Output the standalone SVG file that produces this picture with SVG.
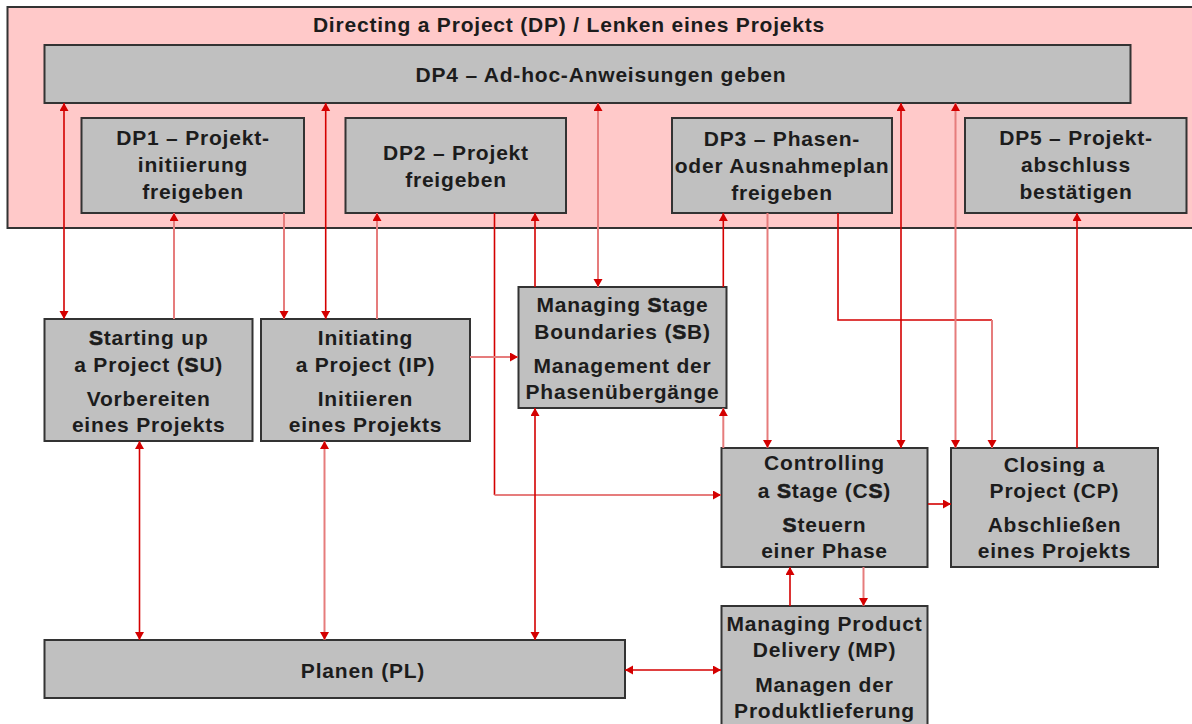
<svg xmlns="http://www.w3.org/2000/svg" width="1192" height="724" viewBox="0 0 1192 724">
<style>
.box{fill:#c0c0c0;stroke:#333;stroke-width:2}
.outer{fill:#ffc9c9;stroke:#333;stroke-width:2}
.t{font-family:"Liberation Sans",Arial,sans-serif;font-weight:bold;font-size:21px;letter-spacing:0.8px;fill:#1c1c1c;text-anchor:middle}
.s{stroke:#1c1c1c;stroke-width:0.7}
.dk{stroke:#d40000;stroke-width:1.6;fill:none}
.lt{stroke:#e67c7c;stroke-width:2;fill:none}
.e{marker-end:url(#ah)}
.d{marker-start:url(#ah);marker-end:url(#ah)}
</style>
<defs>
<marker id="ah" markerUnits="userSpaceOnUse" viewBox="0 0 10 10" markerWidth="10" markerHeight="10" refX="8" refY="4.5" orient="auto-start-reverse"><path d="M0,0 L8,4.5 L0,9 z" fill="#d40000"/></marker>
</defs>
<rect width="1192" height="724" fill="#fff"/>
<g id="DP">
<rect class="outer" x="7.5" y="7" width="1192" height="221"/>
<text class="t" x="569" y="31.5">Directing a Project (DP) / Lenken eines Projekts</text>
</g>
<g id="DP4"><rect class="box" x="44.5" y="45" width="1086" height="58"/><text class="t" x="601" y="81.5">DP4 – Ad-hoc-Anweisungen geben</text></g>
<g id="DP1"><rect class="box" x="81.5" y="118" width="222.5" height="95"/><text class="t" x="193" y="145">DP1 – Projekt-</text><text class="t" x="193" y="172">initiierung</text><text class="t" x="193" y="199">freigeben</text></g>
<g id="DP2"><rect class="box" x="345.5" y="118" width="220.5" height="95"/><text class="t" x="456" y="159.5">DP2 – Projekt</text><text class="t" x="456" y="186.5">freigeben</text></g>
<g id="DP3"><rect class="box" x="672" y="118" width="220" height="95"/><text class="t" x="782" y="145.5">DP3 – Phasen-</text><text class="t" x="782" y="172.5">oder Ausnahmeplan</text><text class="t" x="782" y="199.5">freigeben</text></g>
<g id="DP5"><rect class="box" x="965" y="118" width="221.5" height="95"/><text class="t" x="1076" y="145">DP5 – Projekt-</text><text class="t" x="1076" y="172">abschluss</text><text class="t" x="1076" y="199">bestätigen</text></g>
<g id="SU"><rect class="box" x="44.5" y="319" width="208" height="122"/><text class="t" x="148.7" y="345"><tspan class="s">S</tspan>tarting up</text><text class="t" x="148.7" y="372">a Project (<tspan class="s">S</tspan>U)</text><text class="t" x="148.7" y="406">Vorbereiten</text><text class="t" x="148.7" y="432">eines Projekts</text></g>
<g id="IP"><rect class="box" x="261" y="319" width="209" height="122"/><text class="t" x="365.5" y="345">Initiating</text><text class="t" x="365.5" y="372">a Project (IP)</text><text class="t" x="365.5" y="406">Initiieren</text><text class="t" x="365.5" y="432">eines Projekts</text></g>
<g id="SB"><rect class="box" x="518.5" y="287" width="208" height="121"/><text class="t" x="622.5" y="311.7">Managing <tspan class="s">S</tspan>tage</text><text class="t" x="622.5" y="339">Boundaries (<tspan class="s">S</tspan>B)</text><text class="t" x="622.5" y="373.3">Management der</text><text class="t" x="622.5" y="399.3">Phasenübergänge</text></g>
<g id="CS"><rect class="box" x="721.5" y="448" width="206" height="119"/><text class="t" x="824.5" y="470">Controlling</text><text class="t" x="824.5" y="498">a <tspan class="s">S</tspan>tage (C<tspan class="s">S</tspan>)</text><text class="t" x="824.5" y="532"><tspan class="s">S</tspan>teuern</text><text class="t" x="824.5" y="558">einer Phase</text></g>
<g id="CP"><rect class="box" x="951" y="448" width="207" height="119"/><text class="t" x="1054.5" y="471.7">Closing a</text><text class="t" x="1054.5" y="498">Project (CP)</text><text class="t" x="1054.5" y="531.7">Abschließen</text><text class="t" x="1054.5" y="558">eines Projekts</text></g>
<g id="PL"><rect class="box" x="44.5" y="640" width="580.5" height="58"/><text class="t" x="363" y="678">Planen (PL)</text></g>
<g id="MP"><rect class="box" x="721.5" y="606" width="206" height="122"/><text class="t" x="824.5" y="630.7">Managing Product</text><text class="t" x="824.5" y="657.3">Delivery (MP)</text><text class="t" x="824.5" y="691.7">Managen der</text><text class="t" x="824.5" y="718.3">Produktlieferung</text></g>
<g id="connectors">
<path class="dk d" d="M64,319 V103"/>
<path class="lt e" d="M174,319 V213"/>
<path class="lt e" d="M284,213 V319"/>
<path class="dk d" d="M325.7,319 V103"/>
<path class="lt e" d="M377,319 V213"/>
<path class="dk" d="M494.5,213 V495"/>
<path class="lt e" d="M494.5,495 H721"/>
<path class="dk e" d="M535,287 V213"/>
<path class="lt d" d="M598,287 V103"/>
<path class="dk e" d="M723.3,287 V213"/>
<path class="lt e" d="M723.3,448 V408"/>
<path class="lt e" d="M767.5,213 V448"/>
<path class="dk" d="M838,213 V320 H992"/>
<path class="lt e" d="M992,320 V448"/>
<path class="dk d" d="M901,448 V103"/>
<path class="lt d" d="M955.5,448 V103"/>
<path class="dk e" d="M1077,448 V213"/>
<path class="dk d" d="M139.5,441 V640"/>
<path class="lt d" d="M324.5,441 V640"/>
<path class="dk d" d="M535,640 V408"/>
<path class="lt e" d="M470,357 H518"/>
<path class="dk e" d="M928,504 H951"/>
<path class="dk e" d="M790,606 V567"/>
<path class="lt e" d="M863.5,567 V606"/>
<path class="dk d" d="M625,670 H721"/>
</g>
</svg>
